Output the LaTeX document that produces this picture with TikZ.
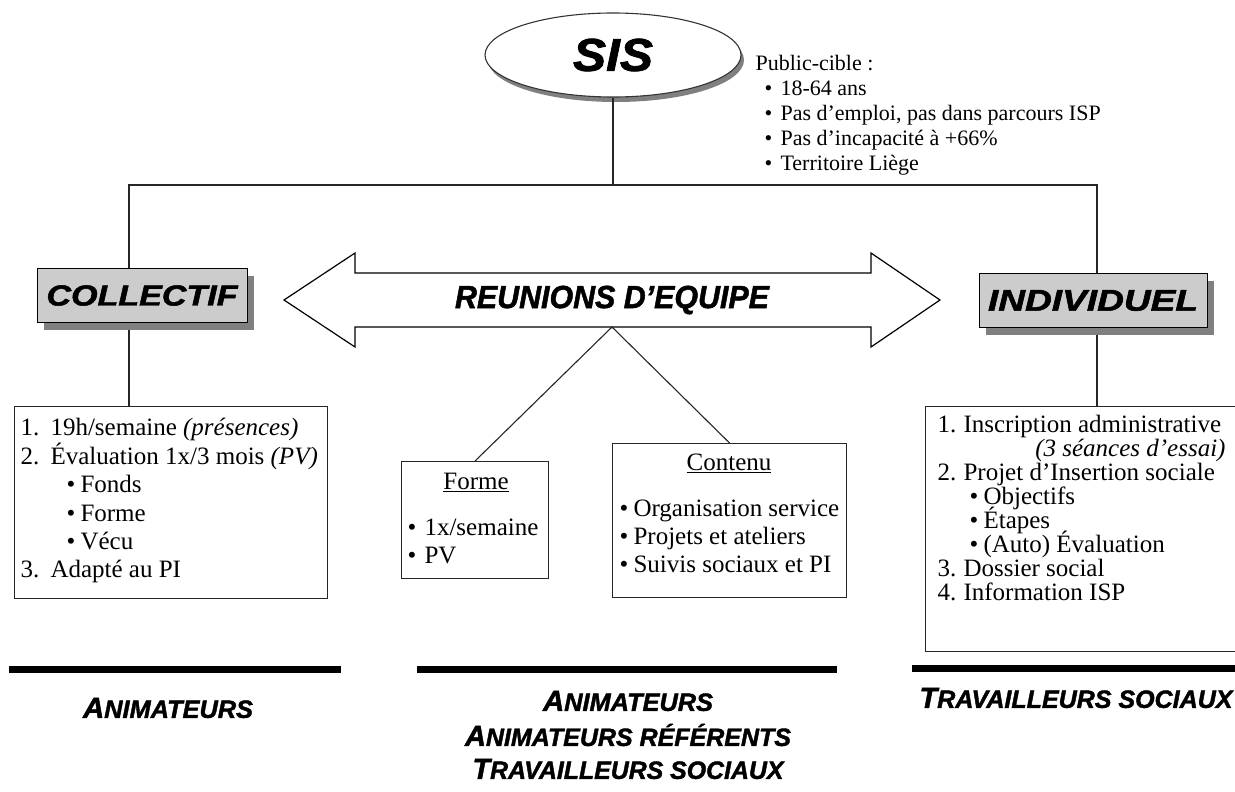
\documentclass[tikz,border=0pt]{standalone}
\usepackage{fontspec}
\usepackage{graphicx}
\setmainfont{Liberation Serif}
\newfontfamily\hv{Liberation Sans}[BoldItalicFeatures={FakeBold=1.6}]
\usetikzlibrary{shapes.geometric,shadows,calc}
\newcommand{\hbi}{\hv\bfseries\itshape}
\newcommand{\fsz}[2]{\fontsize{#1}{#2}\selectfont\lineskiplimit=-100pt\relax}
\newcommand{\fitw}[2]{\resizebox{#1}{\height}{#2}}
\newcommand{\scx}[2]{{\fsz{29}{29}#1}{\fsz{25}{25}#2}}
\newcommand{\bul}[1]{\makebox[#1][l]{•}}
\begin{document}
\begin{tikzpicture}[x=1pt,y=-1pt,line width=1.1pt,
  ln/.style={draw=black!85, line width=1.1pt},
  gbox/.style={draw=black, line width=1pt, fill=black!20, inner sep=0pt, minimum height=54pt,
    drop shadow={shadow xshift=7pt, shadow yshift=-7pt, fill=black!50, opacity=1}},
  frame/.style={draw=black!85, line width=1.1pt, inner sep=0pt, anchor=north west},
  txt/.style={inner sep=0pt, anchor=north west, align=left, font=\fsz{25}{28.4}},
  bottomtxt/.style={inner sep=0pt, font=\hbi},
  ttl/.style={inner sep=0pt, font=\fsz{25}{25}}
]
\useasboundingbox (0,0) rectangle (1235,792);
\clip (0,0) rectangle (1235,792);
\fill[white] (0,0) rectangle (1235,792);

% SIS
\node[ellipse, draw=black!80, line width=1.1pt, fill=white, minimum width=256pt, minimum height=84pt, inner sep=0pt,
  drop shadow={shadow xshift=3pt, shadow yshift=-5pt, fill=black!50, opacity=1}] (sis) at (613,55)
  {\hbi\fsz{46}{46}\fitw{80pt}{SIS}};

\node[txt, font=\fsz{22}{25}] (pub) at (755,55) {Public-cible :\\
  \hspace*{9pt}\bul{16pt}18-64 ans\\
  \hspace*{9pt}\bul{16pt}Pas d’emploi, pas dans parcours ISP\\
  \hspace*{9pt}\bul{16pt}Pas d’incapacité à +66\%\\
  \hspace*{9pt}\bul{16pt}Territoire Liège};

% tree lines
\coordinate (hm) at (613,185);
\coordinate (hl) at (129,185);
\coordinate (hr) at (1097,185);

\node[gbox, minimum width=210pt] (coll) at (142,295.5) {\hbi\fsz{29}{29}\fitw{191pt}{COLLECTIF}};
\node[gbox, minimum width=228pt] (indiv) at (1093,300.5) {\hbi\fsz{30}{30}\fitw{210pt}{INDIVIDUEL}};

\draw[ln] (sis.south) -- (hm);
\draw[ln] (hl |- coll.north) -- (hl) -- (hr) -- (hr |- indiv.north);

% double arrow
\draw[line width=1.2pt, fill=white] (284,300) -- (355,253) -- (355,273) -- (871,273) -- (871,253) -- (940,300)
  -- (871,347) -- (871,327) -- (355,327) -- (355,347) -- cycle;
\node[inner sep=0pt] (reu) at (612,300) {\hbi\fsz{32}{32}\fitw{314pt}{REUNIONS D’EQUIPE}};
\coordinate (apex) at (612,327);

% left box
\node[frame, minimum width=313pt, minimum height=192pt] (lbox) at (14,406) {};
\node[txt] (ltxt) at (20,418) {\makebox[30pt][l]{1.}19h/semaine \textit{(présences)}\\
  \makebox[30pt][l]{2.}Évaluation 1x/3 mois \textit{(PV)}\\
  \hspace*{46pt}\bul{14pt}Fonds\\
  \hspace*{46pt}\bul{14pt}Forme\\
  \hspace*{46pt}\bul{14pt}Vécu\\
  \makebox[30pt][l]{3.}Adapté au PI};
\draw[ln] ($(hl |- coll.south)+(0,7)$) -- (hl |- lbox.north);

% middle boxes
\node[frame, minimum width=147pt, minimum height=117pt] (forme) at (401,461) {};
\node[ttl] (formet) at (476,482) {\underline{Forme}};
\node[txt, font=\fsz{25}{28}] (formel) at (407,518) {\bul{17pt}1x/semaine\\ \bul{17pt}PV};

\node[frame, minimum width=234pt, minimum height=154pt] (contenu) at (612,443) {};
\node[ttl] (contt) at (729,463) {\underline{Contenu}};
\node[txt, font=\fsz{25}{28}] (contl) at (619,499) {\bul{14pt}Organisation service\\
  \bul{14pt}Projets et ateliers\\
  \bul{14pt}Suivis sociaux et PI};

\draw[ln] (forme.north) -- (apex) -- (contenu.north);

% right box
\node[frame, minimum width=320pt, minimum height=245pt] (rbox) at (925,406) {};
\node[txt, font=\fsz{25}{24}] (rtxt) at (937,415) {\makebox[26pt][l]{1.}Inscription administrative\\
  \makebox[288pt][r]{\textit{(3 séances d’essai)}}\\
  \makebox[26pt][l]{2.}Projet d’Insertion sociale\\
  \hspace*{32pt}\bul{14pt}Objectifs\\
  \hspace*{32pt}\bul{14pt}Étapes\\
  \hspace*{32pt}\bul{14pt}(Auto) Évaluation\\
  \makebox[26pt][l]{3.}Dossier social\\
  \makebox[26pt][l]{4.}Information ISP};
\draw[ln] ($(hr |- indiv.south)+(0,7)$) -- (hr |- rbox.north);

% bottom bars
\fill[black] (9,666) rectangle (341,673);
\fill[black] (417,666) rectangle (837,673);
\fill[black] (912,665) rectangle (1235,672);

% bottom labels
\node[bottomtxt] (b1) at (168,708) {\fitw{170pt}{\scx{A}{NIMATEURS}}};
\node[bottomtxt] (b2) at (628,701) {\fitw{170pt}{\scx{A}{NIMATEURS}}};
\node[bottomtxt] (b3) at (628,735) {\fitw{326pt}{\scx{A}{NIMATEURS RÉFÉRENTS}}};
\node[bottomtxt] (b4) at (628,769) {\fitw{311pt}{\scx{T}{RAVAILLEURS SOCIAUX}}};
\node[bottomtxt] (b5) at (1076,698) {\fitw{313pt}{\scx{T}{RAVAILLEURS SOCIAUX}}};
\end{tikzpicture}
\end{document}
